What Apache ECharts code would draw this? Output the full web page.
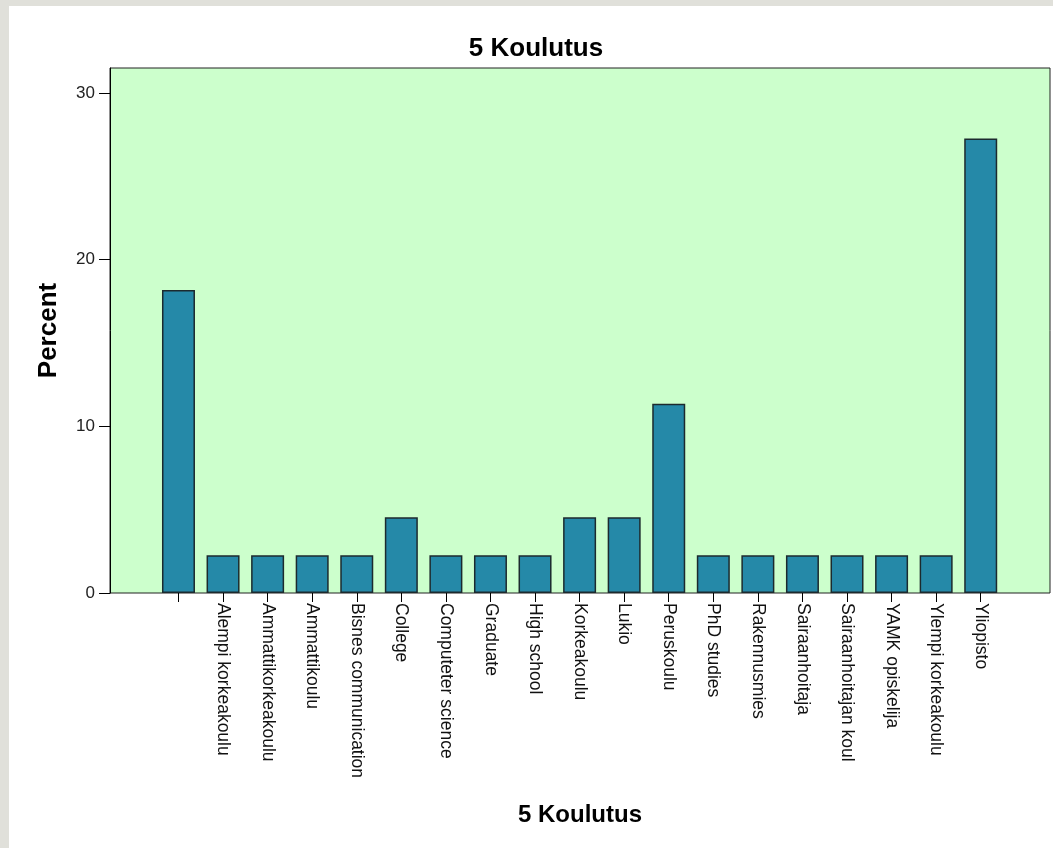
<!DOCTYPE html>
<html>
<head>
<meta charset="utf-8">
<script src="https://cdn.jsdelivr.net/npm/echarts@6/dist/echarts.min.js"></script>
<style>
    html, body { margin: 0; padding: 0; background: #e0e0da; }
    #main { position: absolute; left: 9px; top: 6px; width: 1044px; height: 842px; background: #fff; }
</style>
</head>
<body>
<div id="main"></div>
<script>
var categories = ['', 'Alempi korkeakoulu', 'Ammattikorkeakoulu', 'Ammattikoulu', 'Bisnes communication',
    'College', 'Computeter science', 'Graduate', 'High school', 'Korkeakoulu', 'Lukio', 'Peruskoulu',
    'PhD studies', 'Rakennusmies', 'Sairaanhoitaja', 'Sairaanhoitajan koul', 'YAMK opiskelija',
    'Ylempi korkeakoulu', 'Yliopisto'];
var percent = [18.18, 2.27, 2.27, 2.27, 2.27, 4.55, 2.27, 2.27, 2.27, 4.55, 4.55, 11.36,
    2.27, 2.27, 2.27, 2.27, 2.27, 2.27, 27.27];
var yTicks = [0, 10, 20, 30];

var chartDom = document.getElementById('main');
var myChart = echarts.init(chartDom);
var font = 'Liberation Sans, Arial, sans-serif';

var option = {
    animation: false,
    title: {
        text: '5 Koulutus',
        left: 522,
        top: 25,
        textAlign: 'center',
        textStyle: {fontFamily: font, fontSize: 26, fontWeight: 'bold', color: '#000'}
    },
    grid: [{
        // plot frame
        left: 101,
        top: 62,
        right: 3,
        bottom: 255,
        show: true,
        backgroundColor: '#ccffcc',
        borderColor: '#222',
        borderWidth: 1
    }, {
        // bars
        left: 147.2,
        top: 62,
        right: 50,
        bottom: 255
    }],
    xAxis: [{
        type: 'value',
        gridIndex: 0,
        min: 0,
        max: 1,
        axisLine: {show: false},
        axisTick: {show: false},
        axisLabel: {show: false},
        splitLine: {show: false},
        name: '5 Koulutus',
        nameLocation: 'middle',
        nameGap: 210,
        nameTextStyle: {fontFamily: font, fontSize: 24, fontWeight: 'bold', color: '#000'}
    }, {
        type: 'category',
        gridIndex: 1,
        data: categories,
        axisLine: {show: true, lineStyle: {color: 'rgba(0,0,0,0)'}},
        axisTick: {
            show: true,
            alignWithLabel: true,
            length: 9,
            lineStyle: {color: '#000', width: 1}
        },
        axisLabel: {
            interval: 0,
            rotate: -90,
            margin: 10,
            fontFamily: font,
            fontSize: 17.5,
            color: '#111'
        },
        splitLine: {show: false}
    }],
    yAxis: [{
        type: 'value',
        gridIndex: 0,
        min: yTicks[0],
        max: 31.5,
        interval: 10,
        axisLine: {show: true, lineStyle: {color: '#000', width: 1}},
        axisTick: {show: true, length: 11, lineStyle: {color: '#000', width: 1}},
        axisLabel: {
            margin: 15,
            fontFamily: font,
            fontSize: 17,
            color: '#222',
            showMaxLabel: false
        },
        splitLine: {show: false},
        name: 'Percent',
        nameLocation: 'middle',
        nameGap: 48,
        nameTextStyle: {fontFamily: font, fontSize: 26, fontWeight: 'bold', color: '#000'}
    }, {
        type: 'value',
        gridIndex: 1,
        min: 0,
        max: 31.5,
        show: false,
        splitLine: {show: false}
    }],
    series: [{
        type: 'bar',
        xAxisIndex: 1,
        yAxisIndex: 1,
        barWidth: 33,
        itemStyle: {
            color: '#2589a8',
            borderColor: '#1c2a2e',
            borderWidth: 1.5
        },
        data: percent
    }]
};

myChart.setOption(option);
</script>
</body>
</html>
